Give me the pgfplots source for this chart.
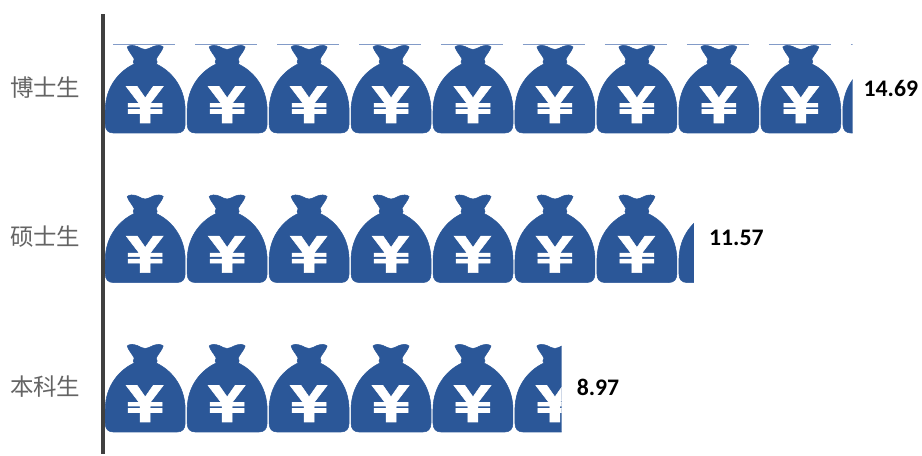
\documentclass[border=0pt]{standalone}
\usepackage{fontspec}
\setmainfont{Carlito}
\newfontfamily\cjk{Noto Sans CJK SC}
\usepackage{pgfplots}
\pgfplotsset{compat=1.18}
\definecolor{bagblue}{RGB}{43,87,152}
\definecolor{lineblue}{RGB}{130,155,200}
\definecolor{axisgray}{RGB}{64,64,64}
\definecolor{labelgray}{RGB}{100,100,100}
% money bag, drawn in px (0.75pt) around its centre
\pgfdeclareplotmark{moneybag}{%
  \fill[bagblue,x=0.75pt,y=0.75pt]
    (-18,42) .. controls (-16,44) and (-12,44) .. (-8,42.5)
    .. controls (-5,41) and (-2,39.5) .. (0,39.5)
    .. controls (2,39.5) and (5,41) .. (8,42.5)
    .. controls (12,44) and (16,44) .. (18,42)
    .. controls (17,38) and (13,34) .. (11,30)
    -- (12,27) -- (11,25)
    .. controls (24,19) and (40,4) .. (40,-22)
    -- (40,-35) .. controls (40,-41) and (37,-44) .. (32,-44)
    -- (-32,-44) .. controls (-37,-44) and (-40,-41) .. (-40,-35)
    -- (-40,-22) .. controls (-40,4) and (-24,19) .. (-11,25)
    -- (-12,27) -- (-11,30)
    .. controls (-13,34) and (-17,38) .. (-18,42) -- cycle;
  \fill[white,x=0.75pt,y=0.75pt]
    (-19,2.5) -- (-8,2.5) -- (0,-9) -- (8,2.5) -- (18,2.5) -- (5,-14.5)
    -- (17,-14.5) -- (17,-18) -- (5,-18) -- (5,-20.5) -- (17,-20.5) -- (17,-24.5) -- (5,-24.5)
    -- (5,-34) -- (-5,-34) -- (-5,-24.5) -- (-17,-24.5) -- (-17,-20.5) -- (-5,-20.5)
    -- (-5,-18) -- (-17,-18) -- (-17,-14.5) -- (-6,-14.5) -- cycle;
}
\pgfdeclareplotmark{bagline}{%
  \draw[lineblue,line width=0.5pt,x=0.75pt,y=0.75pt] (-32,45) -- (30,45);
}
\pgfplotsset{rowaxis/.style={
  scale only axis, hide axis, anchor=west,
  height=75pt, ymin=-1, ymax=1, xmin=0,
  clip mode=global, clip marker paths=true}}
\begin{document}
\begin{tikzpicture}
% one axis per row: its width and xmax cut the row of bags off at the value
\begin{axis}[rowaxis, at={(1.5pt,273.75pt)}, xmax=14.69, width=560.8pt]
\addplot[only marks,mark=moneybag] coordinates {
  (0.79,0) (2.40,0) (4.01,0) (5.62,0) (7.23,0) (8.84,0) (10.45,0) (12.06,0) (13.67,0)};
\addplot[only marks,mark=moneybag,mark options={xshift=61.5pt}] coordinates {(13.67,0)};
\addplot[only marks,mark=bagline] coordinates {
  (0.79,0) (2.40,0) (4.01,0) (5.62,0) (7.23,0) (8.84,0) (10.45,0) (12.06,0) (13.67,0)};
\addplot[only marks,mark=bagline,mark options={xshift=61.5pt}] coordinates {(13.67,0)};
\end{axis}
\begin{axis}[rowaxis, at={(1.5pt,161.6pt)}, xmax=11.57, width=441.7pt]
\addplot[only marks,mark=moneybag] coordinates {
  (0.79,0) (2.40,0) (4.01,0) (5.62,0) (7.23,0) (8.84,0) (10.45,0)};
\addplot[only marks,mark=moneybag,mark options={xshift=61.5pt}] coordinates {(10.45,0)};
\end{axis}
\begin{axis}[rowaxis, at={(1.5pt,49.5pt)}, xmax=8.97, width=342.4pt]
\addplot[only marks,mark=moneybag] coordinates {
  (0.79,0) (2.40,0) (4.01,0) (5.62,0) (7.23,0) (8.84,0)};
\end{axis}
% axis line, category names and value labels
\begin{axis}[
  at={(0pt,0pt)}, anchor=south west,
  scale only axis,
  width=614.25pt, height=330pt,
  xmin=-0.0393, xmax=16.051,
  ymin=-0.4548, ymax=2.4947,
  axis x line=none,
  axis y line*=left,
  y axis line style={line width=3pt,color=axisgray},
  ytick={0,1,2},
  yticklabels={本科生,硕士生,博士生},
  major tick length=0pt,
  ytick style={draw=none},
  yticklabel style={font=\cjk\fontsize{17.6pt}{20pt}\selectfont,text=labelgray,inner sep=0pt,anchor=east,xshift=-16.7pt},
  clip=false,
  every node near coord/.append style={
    font=\bfseries\fontsize{17.8pt}{20pt}\selectfont,text=black,anchor=west,inner sep=0pt,yshift=-0.8pt},
]
\addplot[only marks,mark=none,point meta=explicit symbolic,
  nodes near coords,
  every node near coord/.append style={xshift=8pt}]
  coordinates {(14.69,2)[14.69]};
\addplot[only marks,mark=none,point meta=explicit symbolic,
  nodes near coords,
  every node near coord/.append style={xshift=11.2pt}]
  coordinates {(11.57,1)[11.57] (8.97,0)[8.97]};
\end{axis}
\path[use as bounding box] (-77.25pt,0pt) rectangle (614.25pt,340.5pt);
\end{tikzpicture}
\end{document}
